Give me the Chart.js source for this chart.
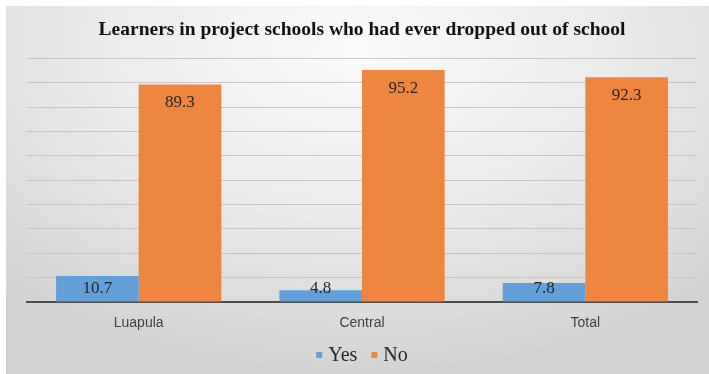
<!DOCTYPE html>
<html>
<head>
<meta charset="utf-8">
<script src="https://cdn.jsdelivr.net/npm/chart.js@4"></script>
<style>
  html, body { margin: 0; padding: 0; background: #fff; }
  #wrap {
    position: absolute; left: 6px; top: 6px;
    width: 703px; height: 368px;
    background: radial-gradient(ellipse 75% 90% at 50% 12%, #fbfbfb 0%, #ececec 45%, #dcdcdc 80%, #d2d2d2 100%);
  }
</style>
</head>
<body>
<div id="wrap"><canvas id="myChart" width="703" height="368"></canvas></div>
<script>
const regions = ['Luapula', 'Central', 'Total'];
const yes = [10.7, 4.8, 7.8];
const no = [89.3, 95.2, 92.3];

// value labels sit just inside the top of each bar
const barLabels = {
  id: 'barLabels',
  afterDatasetsDraw(chart) {
    const ctx = chart.ctx;
    ctx.save();
    ctx.font = '17px "Liberation Serif"';
    ctx.fillStyle = '#262626';
    ctx.textAlign = 'center';
    ctx.textBaseline = 'middle';
    chart.data.datasets.forEach((ds, i) => {
      chart.getDatasetMeta(i).data.forEach((bar, j) => {
        const h = bar.base - bar.y;
        const off = Math.min(18, h - 13);
        ctx.fillText(ds.data[j].toFixed(1), bar.x, bar.y + off);
      });
    });
    ctx.restore();
  }
};

// small square swatches with serif text, centred under the plot
const bottomLegend = {
  id: 'bottomLegend',
  afterDraw(chart) {
    const ctx = chart.ctx;
    const area = chart.chartArea;
    const y = 349;
    ctx.save();
    ctx.font = '20px "Liberation Serif"';
    ctx.textBaseline = 'middle';
    const items = chart.data.datasets.map(ds => ({ text: ds.label, color: ds.backgroundColor, w: ctx.measureText(ds.label).width }));
    const total = items.reduce((s, it) => s + 12 + it.w, 0) + 14 * (items.length - 1);
    let x = (area.left + area.right) / 2 - total / 2;
    items.forEach(it => {
      ctx.fillStyle = it.color;
      ctx.fillRect(x, y - 3, 6, 6);
      ctx.fillStyle = '#262626';
      ctx.fillText(it.text, x + 12, y + 1);
      x += 12 + it.w + 14;
    });
    ctx.restore();
  }
};

window.addEventListener('load', setup);

function setup() {
  const ctx = document.getElementById('myChart').getContext('2d');
  new Chart(ctx, {
    type: 'bar',
    data: {
      labels: regions,
      datasets: [
        { label: 'Yes', data: yes, backgroundColor: '#639fd9' },
        { label: 'No', data: no, backgroundColor: '#ef8640' }
      ]
    },
    plugins: [barLabels, bottomLegend],
    options: {
      responsive: false,
      animation: false,
      datasets: { bar: { categoryPercentage: 0.74, barPercentage: 1 } },
      layout: { padding: { left: 21, right: 12, top: 0, bottom: 40 } },
      plugins: {
        title: {
          display: true,
          text: 'Learners in project schools who had ever dropped out of school',
          color: '#111',
          font: { family: '"Liberation Serif"', size: 19.5, weight: 'bold' },
          padding: { top: 12, bottom: 17 }
        },
        legend: { display: false },
        tooltip: { enabled: false }
      },
      scales: {
        x: {
          grid: { display: false, drawTicks: false },
          border: { color: '#4d4d4d', width: 2 },
          ticks: { padding: 13, color: '#404040', font: { family: '"Liberation Sans"', size: 14 } },
          afterFit(scale) { scale.height = 32; }
        },
        y: {
          min: 0,
          max: 100,
          ticks: { stepSize: 10, display: false },
          grid: { color: '#c6c6c6', lineWidth: 1, drawTicks: false },
          border: { display: false }
        }
      }
    }
  });
}
</script>
</body>
</html>
